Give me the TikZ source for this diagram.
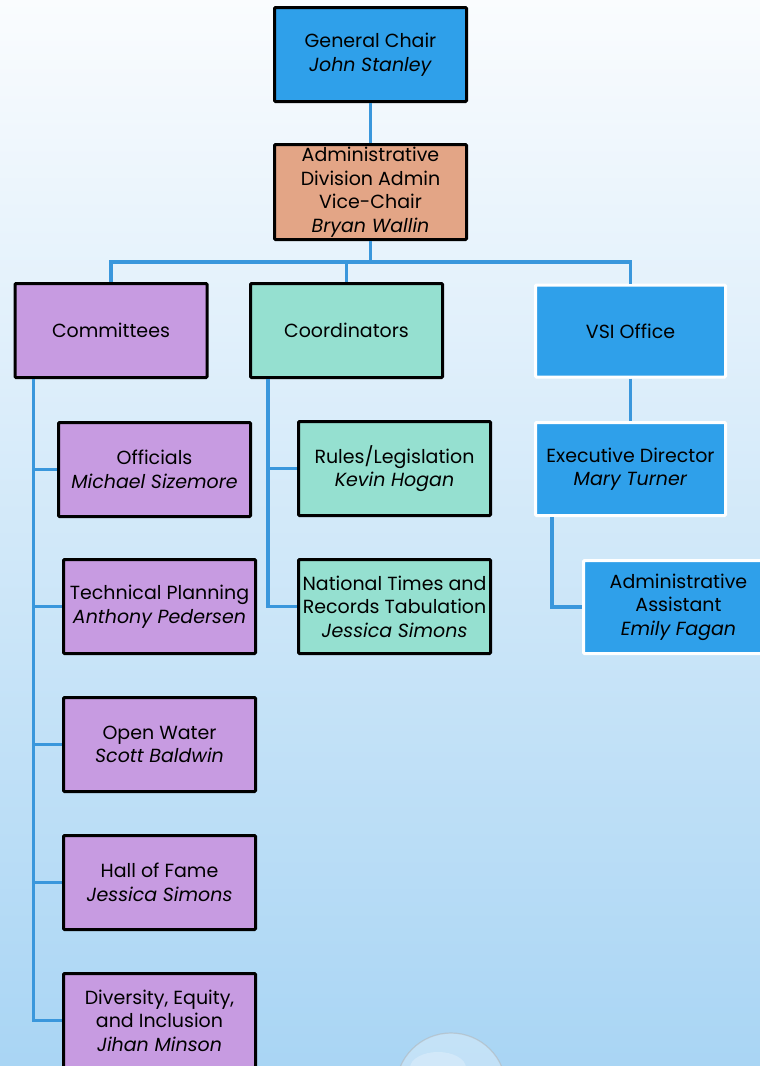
\documentclass[tikz,border=0pt]{standalone}
\usepackage{fontspec}
\setmainfont{Poppins}
\usetikzlibrary{calc}
\definecolor{bluebox}{HTML}{2FA0EA}
\definecolor{salmonbox}{HTML}{E3A586}
\definecolor{purplebox}{HTML}{C79BE1}
\definecolor{mintbox}{HTML}{95E0D0}
\definecolor{linkblue}{HTML}{3A97DC}
\definecolor{bgtop}{HTML}{FAFCFE}
\definecolor{bgbot}{HTML}{A9D5F4}
\tikzset{
  box/.style={draw=black, line width=3pt, rounded corners=1pt, align=center,
    minimum width=192pt, minimum height=94pt, inner sep=2pt,
    font=\fontsize{19}{23.5}\selectfont, text=black},
  lightbox/.style={box, draw=white, fill=bluebox},
  link/.style={draw=linkblue, line width=3.2pt},
}
\begin{document}
\begin{tikzpicture}[x=1pt,y=-1pt]
% page background
\shade[top color=bgtop, bottom color=bgbot] (0,0) rectangle (760,1066);
\useasboundingbox (0,0) rectangle (760,1066);

% bubble at the foot of the page
\fill[white, opacity=0.3] (451,1088) circle (55);
\draw[gray!60, line width=1.2pt, opacity=0.5] (451,1088) circle (55);
\fill[white, opacity=0.25] (438,1068) ellipse (28 and 16);

% top of the chart
\node[box, fill=bluebox] (gc) at (370.5,54.5) {General Chair\\\textit{John Stanley}};
\node[box, fill=salmonbox, minimum height=95pt] (adm) at (370.5,192)
  {Administrative\\Division Admin\\Vice-Chair\\\textit{Bryan Wallin}};

% second level
\node[box, fill=purplebox] (com) at (111,330.5) {Committees};
\node[box, fill=mintbox] (coo) at (346.5,330.5) {Coordinators};
\node[lightbox, minimum width=190pt, minimum height=92pt] (vsi) at (630.5,331) {VSI Office};

% committees
\node[box, fill=purplebox] (off) at (154.5,469.5) {Officials\\\textit{Michael Sizemore}};
\node[box, fill=purplebox] (tp) at (159.5,606.5) {Technical Planning\\\textit{Anthony Pedersen}};
\node[box, fill=purplebox] (ow) at (159.5,744.5) {Open Water\\\textit{Scott Baldwin}};
\node[box, fill=purplebox] (hof) at (159.5,882.5) {Hall of Fame\\\textit{Jessica Simons}};
\node[box, fill=purplebox] (dei) at (159.5,1020.5) {Diversity, Equity,\\and Inclusion\\\textit{Jihan Minson}};

% coordinators
\node[box, fill=mintbox] (rl) at (394.5,468.5) {Rules/Legislation\\\textit{Kevin Hogan}};
\node[box, fill=mintbox] (nt) at (394.5,606.5) {National Times and\\Records Tabulation\\\textit{Jessica Simons}};

% VSI office staff
\node[lightbox, minimum width=190pt, minimum height=93pt] (ed) at (630.5,469) {Executive Director\\\textit{Mary Turner}};
\node[lightbox, minimum width=190pt, minimum height=93pt] (aa) at (678.5,607) {Administrative\\Assistant\\\textit{Emily Fagan}};

% connectors
\coordinate (bus) at (370.5,262);
\coordinate (cs) at ($(com.south west)+(20,0)$);
\coordinate (ks) at ($(coo.south west)+(19,0)$);
\coordinate (es) at ($(ed.south west)+(18,0)$);

\draw[link] (gc.south) -- (adm.north);
\draw[link] (adm.south) -- (bus);
\draw[link] (bus) -| (com.north);
\draw[link] (bus) -| (coo.north);
\draw[link] (bus) -| (vsi.north);
\draw[link] (vsi.south) -- (ed.north);

\draw[link] (cs) |- (off.west);
\draw[link] (cs) |- (tp.west);
\draw[link] (cs) |- (ow.west);
\draw[link] (cs) |- (hof.west);
\draw[link] (cs) |- (dei.west);

\draw[link] (ks) |- (rl.west);
\draw[link] (ks) |- (nt.west);

\draw[link] (es) |- (aa.west);
\end{tikzpicture}
\end{document}
